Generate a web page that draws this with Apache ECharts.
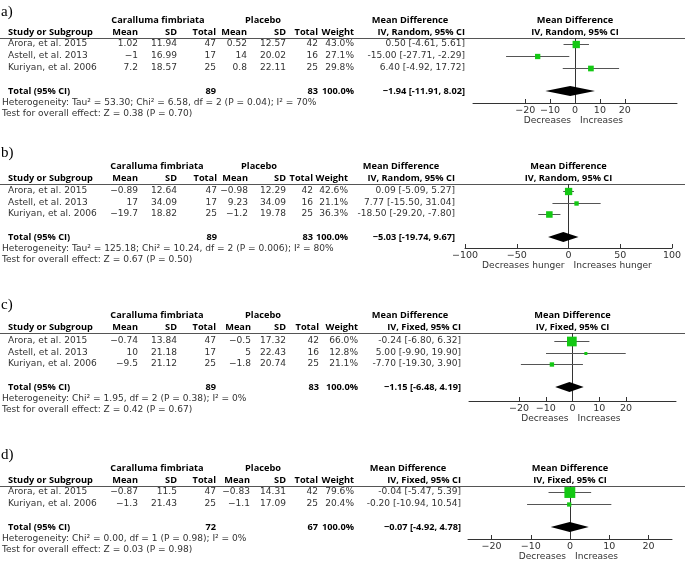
<!DOCTYPE html>
<html><head><meta charset="utf-8">
<script src="https://cdn.jsdelivr.net/npm/echarts@6/dist/echarts.min.js"></script>
<style>html,body{margin:0;padding:0;background:#fff}#c{width:685px;height:562px}</style>
</head><body><div id="c"></div><script>
// ================= DATA =================
// Panel a
const aStudies = ["Arora, et al. 2015", "Astell, et al. 2013", "Kuriyan, et al. 2006"];
const aCfMean = [1.02, -1, 7.2];
const aCfSD = [11.94, 16.99, 18.57];
const aCfN = [47, 17, 25];
const aPlMean = [0.52, 14, 0.8];
const aPlSD = [12.57, 20.02, 22.11];
const aPlN = [42, 16, 25];
const aWeight = [43.0, 27.1, 29.8];
const aMD = [0.50, -15.00, 6.40];
const aLo = [-4.61, -27.71, -4.92];
const aHi = [5.61, -2.29, 17.72];
const aTotalN = [89, 83];
const aTotalMD = [-1.94, -11.91, 8.02];
const aMethod = "IV, Random, 95% CI";
const aHet = "Heterogeneity: Tau\u00b2 = 53.30; Chi\u00b2 = 6.58, df = 2 (P = 0.04); I\u00b2 = 70%";
const aTest = "Test for overall effect: Z = 0.38 (P = 0.70)";
const aTicks = [-20, -10, 0, 10, 20];
const aDir = ["Decreases", "Increases"];

// Panel b
const bStudies = ["Arora, et al. 2015", "Astell, et al. 2013", "Kuriyan, et al. 2006"];
const bCfMean = [-0.89, 17, -19.7];
const bCfSD = [12.64, 34.09, 18.82];
const bCfN = [47, 17, 25];
const bPlMean = [-0.98, 9.23, -1.2];
const bPlSD = [12.29, 34.09, 19.78];
const bPlN = [42, 16, 25];
const bWeight = [42.6, 21.1, 36.3];
const bMD = [0.09, 7.77, -18.50];
const bLo = [-5.09, -15.50, -29.20];
const bHi = [5.27, 31.04, -7.80];
const bTotalN = [89, 83];
const bTotalMD = [-5.03, -19.74, 9.67];
const bMethod = "IV, Random, 95% CI";
const bHet = "Heterogeneity: Tau\u00b2 = 125.18; Chi\u00b2 = 10.24, df = 2 (P = 0.006); I\u00b2 = 80%";
const bTest = "Test for overall effect: Z = 0.67 (P = 0.50)";
const bTicks = [-100, -50, 0, 50, 100];
const bDir = ["Decreases hunger", "Increases hunger"];

// Panel c
const cStudies = ["Arora, et al. 2015", "Astell, et al. 2013", "Kuriyan, et al. 2006"];
const cCfMean = [-0.74, 10, -9.5];
const cCfSD = [13.84, 21.18, 21.12];
const cCfN = [47, 17, 25];
const cPlMean = [-0.5, 5, -1.8];
const cPlSD = [17.32, 22.43, 20.74];
const cPlN = [42, 16, 25];
const cWeight = [66.0, 12.8, 21.1];
const cMD = [-0.24, 5.00, -7.70];
const cLo = [-6.80, -9.90, -19.30];
const cHi = [6.32, 19.90, 3.90];
const cTotalN = [89, 83];
const cTotalMD = [-1.15, -6.48, 4.19];
const cMethod = "IV, Fixed, 95% CI";
const cHet = "Heterogeneity: Chi\u00b2 = 1.95, df = 2 (P = 0.38); I\u00b2 = 0%";
const cTest = "Test for overall effect: Z = 0.42 (P = 0.67)";
const cTicks = [-20, -10, 0, 10, 20];
const cDir = ["Decreases", "Increases"];

// Panel d
const dStudies = ["Arora, et al. 2015", "Kuriyan, et al. 2006"];
const dCfMean = [-0.87, -1.3];
const dCfSD = [11.5, 21.43];
const dCfN = [47, 25];
const dPlMean = [-0.83, -1.1];
const dPlSD = [14.31, 17.09];
const dPlN = [42, 25];
const dWeight = [79.6, 20.4];
const dMD = [-0.04, -0.20];
const dLo = [-5.47, -10.94];
const dHi = [5.39, 10.54];
const dTotalN = [72, 67];
const dTotalMD = [-0.07, -4.92, 4.78];
const dMethod = "IV, Fixed, 95% CI";
const dHet = "Heterogeneity: Chi\u00b2 = 0.00, df = 1 (P = 0.98); I\u00b2 = 0%";
const dTest = "Test for overall effect: Z = 0.03 (P = 0.98)";
const dTicks = [-20, -10, 0, 10, 20];
const dDir = ["Decreases", "Increases"];

const panelLabels = ["a)", "b)", "c)", "d)"];
const hdrGroup = ["Caralluma fimbriata", "Placebo"];
const hdrCols = ["Study or Subgroup", "Mean", "SD", "Total", "Mean", "SD", "Total", "Weight"];
const hdrMD = "Mean Difference";
const totalLabel = "Total (95% CI)";

// ================= LAYOUT (styles / positions) =================
const layoutA = {labelY:12, lineY:38, r0:44, band:11.75, axisY:103, left:473, width:204, min:-41, max:41,
  cols:[138,177,216,247,286,318,354,465], grpX:[158,263], mdX:410};
const layoutB = {labelY:153, lineY:184, r0:191, band:11.5, axisY:248, left:465, width:207, min:-100, max:100,
  cols:[138,177,217,248,286,313,348,455], grpX:[157,259], mdX:401};
const layoutC = {labelY:305, lineY:333, r0:341, band:11.5, axisY:401, left:469, width:207, min:-38.7, max:38.7,
  cols:[138,177,216,251,286,319,358,461], grpX:[157,263], mdX:410};
const layoutD = {labelY:455, lineY:486, r0:492, band:11.67, axisY:539, left:468, width:204, min:-26, max:26,
  cols:[138,177,216,250,286,318,354,461], grpX:[157,263], mdX:408};

const panels = [
  {studies:aStudies, cfMean:aCfMean, cfSD:aCfSD, cfN:aCfN, plMean:aPlMean, plSD:aPlSD, plN:aPlN, weight:aWeight, md:aMD, lo:aLo, hi:aHi, totN:aTotalN, totMD:aTotalMD, method:aMethod, het:aHet, test:aTest, ticks:aTicks, dir:aDir, L:layoutA},
  {studies:bStudies, cfMean:bCfMean, cfSD:bCfSD, cfN:bCfN, plMean:bPlMean, plSD:bPlSD, plN:bPlN, weight:bWeight, md:bMD, lo:bLo, hi:bHi, totN:bTotalN, totMD:bTotalMD, method:bMethod, het:bHet, test:bTest, ticks:bTicks, dir:bDir, L:layoutB},
  {studies:cStudies, cfMean:cCfMean, cfSD:cCfSD, cfN:cCfN, plMean:cPlMean, plSD:cPlSD, plN:cPlN, weight:cWeight, md:cMD, lo:cLo, hi:cHi, totN:cTotalN, totMD:cTotalMD, method:cMethod, het:cHet, test:cTest, ticks:cTicks, dir:cDir, L:layoutC},
  {studies:dStudies, cfMean:dCfMean, cfSD:dCfSD, cfN:dCfN, plMean:dPlMean, plSD:dPlSD, plN:dPlN, weight:dWeight, md:dMD, lo:dLo, hi:dHi, totN:dTotalN, totMD:dTotalMD, method:dMethod, het:dHet, test:dTest, ticks:dTicks, dir:dDir, L:layoutD}
];

const FAM = '"DejaVu Sans", sans-serif';
const BFAM = '"Open Sans", sans-serif';
function fitSize(text, weight, fam, target) {
  const ctx = document.createElement('canvas').getContext('2d');
  ctx.font = weight + ' 20px ' + fam;
  return 20 * target / ctx.measureText(text).width;
}
const bodySize = fitSize(aHet, 'normal', FAM, 315);
const boldSize = fitSize("Study or Subgroup", 'bold', BFAM, 85);
const TXT = '#333';
const GREEN = '#14c814';

const minus = s => String(s).replace('-', '\u2212');
const ciStr = (m, l, h) => m.toFixed(2) + ' [' + l.toFixed(2) + ', ' + h.toFixed(2) + ']';

function T(text, x, y, align, bold, color, size, family) {
  return {type:'text', x:x, y:y, silent:true,
    style:{text:text, align:align, verticalAlign:'middle', fill:color || TXT,
      fontSize:size || (bold ? boldSize : bodySize), fontWeight:bold ? 'bold' : 'normal', fontFamily:family || (bold ? BFAM : FAM)}};
}

const graphics = [];
const grids = [], xAxes = [], yAxes = [], series = [];

panels.forEach((p, k) => {
  const L = p.L;
  const n = p.studies.length;
  const totRow = n + 1;
  const rowY = i => L.r0 + i * L.band;
  graphics.push(T(panelLabels[k], 1, L.labelY, 'left', false, '#000', 15, '"Liberation Serif", serif'));
  const h1 = L.lineY - 18, h2 = L.lineY - 6;
  graphics.push(T(hdrGroup[0], L.grpX[0], h1, 'center', true, '#000'));
  graphics.push(T(hdrGroup[1], L.grpX[1], h1, 'center', true, '#000'));
  graphics.push(T(hdrMD, L.mdX, h1, 'center', true, '#000'));
  graphics.push(T(hdrCols[0], 8, h2, 'left', true, '#000'));
  for (let c = 1; c < hdrCols.length; c++) graphics.push(T(hdrCols[c], L.cols[c - 1], h2, 'right', true, '#000'));
  graphics.push(T(p.method, L.cols[7], h2, 'right', true, '#000'));
  const plotC = L.left + L.width / 2;
  graphics.push(T(hdrMD, plotC, h1, 'center', true, '#000'));
  graphics.push(T(p.method, plotC, h2, 'center', true, '#000'));
  graphics.push({type:'line', silent:true, shape:{x1:0, y1:L.lineY + 0.5, x2:685, y2:L.lineY + 0.5}, style:{stroke:'#555', lineWidth:1}});
  for (let i = 0; i < n; i++) {
    const y = rowY(i);
    const vals = [minus(p.cfMean[i]), String(p.cfSD[i]), String(p.cfN[i]), minus(p.plMean[i]), String(p.plSD[i]), String(p.plN[i]),
      p.weight[i].toFixed(1) + '%', ciStr(p.md[i], p.lo[i], p.hi[i])];
    graphics.push(T(p.studies[i], 8, y, 'left', false));
    vals.forEach((v, c) => graphics.push(T(v, L.cols[c], y, 'right', false)));
  }
  const ty = rowY(totRow);
  graphics.push(T(totalLabel, 8, ty, 'left', true, '#000'));
  graphics.push(T(String(p.totN[0]), L.cols[2], ty, 'right', true, '#000'));
  graphics.push(T(String(p.totN[1]), L.cols[5], ty, 'right', true, '#000'));
  graphics.push(T((100).toFixed(1) + '%', L.cols[6], ty, 'right', true, '#000'));
  graphics.push(T(minus(ciStr(p.totMD[0], p.totMD[1], p.totMD[2])), L.cols[7], ty, 'right', true, '#000'));
  graphics.push(T(p.het, 2, ty + 12, 'left', false));
  graphics.push(T(p.test, 2, ty + 23, 'left', false));
  const zeroX = L.left + (0 - L.min) / (L.max - L.min) * L.width;
  graphics.push(T(p.dir[0], zeroX - 4, L.axisY + 18, 'right', false));
  graphics.push(T(p.dir[1], zeroX + 5, L.axisY + 18, 'left', false));

  grids.push({left:L.left, top:L.lineY, width:L.width, height:L.axisY - L.lineY, containLabel:false});
  xAxes.push({gridIndex:k, type:'value', min:L.min, max:L.max,
    axisLine:{onZero:false, lineStyle:{color:'#333', width:1}},
    axisTick:{customValues:p.ticks, inside:true, length:4, lineStyle:{color:'#333'}},
    axisLabel:{customValues:p.ticks, margin:3, fontSize:bodySize * 1.05, fontFamily:FAM, color:TXT, formatter:v => minus(v)},
    splitLine:{show:false}});
  yAxes.push({gridIndex:k, type:'value', inverse:true, show:false,
    min:-(L.r0 - L.lineY) / L.band, max:(L.axisY - L.r0) / L.band});

  const studyData = p.md.map((m, i) => [m, p.lo[i], p.hi[i], i, p.weight[i]]);
  series.push({type:'custom', xAxisIndex:k, yAxisIndex:k, silent:true, z:3, clip:false,
    data:studyData,
    renderItem:(params, api) => {
      const est = api.value(0), lo = api.value(1), hi = api.value(2), row = api.value(3), w = api.value(4);
      const pl = api.coord([lo, row]), ph = api.coord([hi, row]), pe = api.coord([est, row]);
      const yy = Math.round(pl[1]) + 0.5;
      const s = Math.max(3, 1.5 * Math.sqrt(w) - 2.5);
      return {type:'group', children:[
        {type:'line', shape:{x1:pl[0], y1:yy, x2:ph[0], y2:yy}, style:{stroke:'#555', lineWidth:1}},
        {type:'rect', shape:{x:pe[0] - s / 2, y:yy - s / 2, width:s, height:s}, style:{fill:GREEN}}
      ]};
    }});
  series.push({type:'custom', xAxisIndex:k, yAxisIndex:k, silent:true, z:4, clip:false,
    data:[[p.totMD[0], p.totMD[1], p.totMD[2], totRow]],
    renderItem:(params, api) => {
      const est = api.coord([api.value(0), api.value(3)]);
      const lo = api.coord([api.value(1), api.value(3)]);
      const hi = api.coord([api.value(2), api.value(3)]);
      const h = 5;
      return {type:'polygon', shape:{points:[[lo[0], lo[1]], [est[0], est[1] - h], [hi[0], hi[1]], [est[0], est[1] + h]]}, style:{fill:'#000'}};
    },
    markLine:{silent:true, symbol:['none', 'none'], z:1, label:{show:false},
      lineStyle:{color:'#333', type:'solid', width:1}, data:[{xAxis:0}]}});
});

const chart = echarts.init(document.getElementById('c'), null, {renderer:'canvas'});
chart.setOption({animation:false, backgroundColor:'#fff', grid:grids, xAxis:xAxes, yAxis:yAxes, series:series, graphic:{elements:graphics}});
</script></body></html>
